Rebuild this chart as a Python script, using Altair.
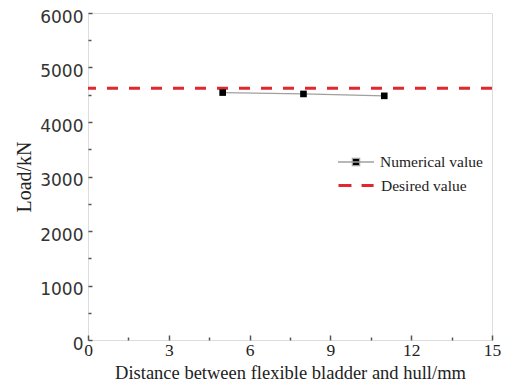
import altair as alt
import pandas as pd

# ---- data ----
distance = [5, 8, 11]
numerical_load = [4540, 4515, 4480]
desired_load = [4620]
series_numerical = "Numerical value"
series_desired = "Desired value"

x_major = [0, 3, 6, 9, 12, 15]
x_minor = [1.5, 4.5, 7.5, 10.5, 13.5]
y_major = [0, 1000, 2000, 3000, 4000, 5000, 6000]
y_minor = [500, 1500, 2500, 3500, 4500, 5500]

num_df = pd.DataFrame({"d": distance, "load": numerical_load,
                       "series": [series_numerical] * len(distance)})
des_df = pd.DataFrame({"load": desired_load, "series": [series_desired]})

SERIF = "Liberation Serif"
SANS = "DejaVu Sans"
FRAME = "#555555"


def xs():
    return alt.Scale(domain=[0, 15], nice=False, zero=False)


def ys():
    return alt.Scale(domain=[0, 6000], nice=False, zero=False)


x_title = "Distance between flexible bladder and hull/mm"

# main axes (labels + titles)
x_main = alt.Axis(orient="bottom", values=x_major, ticks=False, domain=False, grid=False,
                  format="d", labelFlush=False,
                  labelFont=SERIF, labelFontSize=17.5, labelColor="#222", labelPadding=1,
                  title=x_title, titleFont=SERIF, titleFontSize=18.5, titleFontWeight="normal",
                  titleColor="#222", titleBaseline="alphabetic", titleY=38)
y_main = alt.Axis(orient="left", values=y_major, ticks=False, domain=False, grid=False,
                  format="d", labelFlush=False, labelOffset=4,
                  labelFont=SANS, labelFontSize=17, labelColor="#333", labelPadding=5,
                  title="Load/kN", titleFont=SERIF, titleFontSize=20, titleFontWeight="normal",
                  titleColor="#222", titlePadding=5)
# inward major ticks (axis shifted inside the plot, ticks pointing back to the edge)
x_tk = alt.Axis(orient="bottom", values=x_major, labels=False, domain=False, grid=False,
                tickSize=5, tickWidth=1.5, tickColor=FRAME, offset=-5, title=None)
y_tk = alt.Axis(orient="left", values=y_major, labels=False, domain=False, grid=False,
                tickSize=4, tickWidth=1.5, tickColor=FRAME, offset=-4, title=None)
# inward minor ticks
x_mn = alt.Axis(orient="bottom", values=x_minor, labels=False, domain=False, grid=False,
                tickSize=3, tickWidth=1.5, tickColor=FRAME, offset=-3, title=None)
y_mn = alt.Axis(orient="left", values=y_minor, labels=False, domain=False, grid=False,
                tickSize=3, tickWidth=1.5, tickColor=FRAME, offset=-3, title=None)

num_path = "M-1,0H1M-0.2,-0.2H0.2V0.2H-0.2Z"
des_path = "M-1,0H-0.28M0.28,0H0.95"

line = alt.Chart(num_df).mark_line(strokeWidth=1.3).encode(
    x=alt.X("d:Q", scale=xs(), axis=x_main),
    y=alt.Y("load:Q", scale=ys(), axis=y_main),
    color=alt.Color("series:N",
                    scale=alt.Scale(domain=[series_numerical], range=["#a0a0a0"]),
                    legend=alt.Legend(title=None, orient="none", legendX=249, legendY=130,
                                      symbolType=num_path, symbolSize=1296,
                                      symbolStrokeWidth=1.3, symbolFillColor="black",
                                      labelFont=SERIF, labelFontSize=15.5, labelColor="#222",
                                      labelOffset=5, padding=0)),
)

points = alt.Chart(num_df).mark_square(size=44, color="black", opacity=1).encode(
    x=alt.X("d:Q", scale=xs(), axis=x_tk),
    y=alt.Y("load:Q", scale=ys(), axis=y_tk),
)

minor = alt.Chart(num_df).mark_point(opacity=0).encode(
    x=alt.X("d:Q", scale=xs(), axis=x_mn),
    y=alt.Y("load:Q", scale=ys(), axis=y_mn),
)

rule = alt.Chart(des_df).mark_rule(strokeWidth=3, strokeDash=[11, 11]).encode(
    y=alt.Y("load:Q", scale=ys(), axis=None),
    color=alt.Color("series:N",
                    scale=alt.Scale(domain=[series_desired], range=["#e0282e"]),
                    legend=alt.Legend(title=None, orient="none", legendX=249, legendY=153,
                                      symbolType=des_path, symbolSize=1296,
                                      symbolStrokeWidth=3,
                                      labelFont=SERIF, labelFontSize=15.5, labelColor="#222",
                                      labelOffset=5, padding=0)),
)

chart = alt.layer(line, minor, rule, points).resolve_scale(
    color="independent", x="independent", y="independent"
).resolve_axis(
    x="independent", y="independent"
).properties(
    width=404, height=327, autosize="none",
    padding={"left": 80, "top": 5, "right": 11, "bottom": 42},
).configure_view(
    stroke=FRAME, strokeWidth=1.5
).configure(background="white")

chart.save("out.html", embed_options={"renderer": "svg", "actions": False})
